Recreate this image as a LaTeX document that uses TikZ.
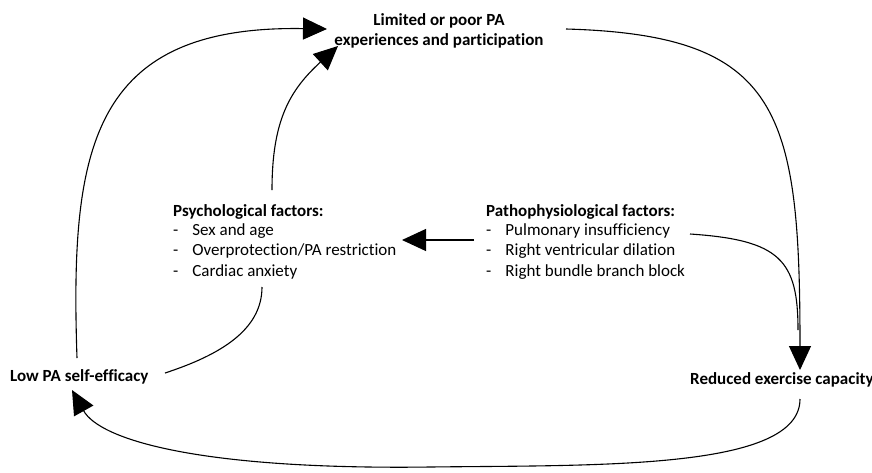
\documentclass[tikz,border=0pt]{standalone}
\usepackage{fontspec}
\setmainfont{Carlito}[RawFeature={-liga}]
\usetikzlibrary{arrows.meta}
\begin{document}
\begin{tikzpicture}[x=1pt,y=-1pt,
  conn/.style={line width=1.1pt,-{Triangle[length=24pt,width=22pt]}},
  plain/.style={line width=1.1pt},
  lbl/.style={font=\fontsize{17}{20.5}\selectfont\bfseries,inner sep=0pt},
  blk/.style={font=\fontsize{17}{20.5}\selectfont,inner sep=0pt,anchor=north west,align=left}]
\useasboundingbox (0,0) rectangle (872,472);
\node[lbl,align=center] (top) at (439,31) {Limited or poor PA\\experiences and participation};
\node[lbl,anchor=west] (low) at (10,377) {Low PA self-efficacy};
\node[lbl,anchor=west] (red) at (690,380) {Reduced exercise capacity};
\node[blk] (psy) at (173,204) {\textbf{Psychological factors:}\\[1pt]
  \begin{tabular}{@{}l@{\hspace{14pt}}l@{}}
  -& Sex and age\\ -& Overprotection/PA restriction\\ -& Cardiac anxiety
  \end{tabular}};
\node[blk] (pat) at (486,204) {\textbf{Pathophysiological factors:}\\[1pt]
  \begin{tabular}{@{}l@{\hspace{14pt}}l@{}}
  -& Pulmonary insufficiency\\ -& Right ventricular dilation\\ -& Right bundle branch block
  \end{tabular}};
\coordinate (a1s) at (77,358);
\coordinate (a1e) at (327,29);
\coordinate (a2s) at (272,190);
\coordinate (a2e) at (338,46);
\coordinate (a3s) at (566,29);
\coordinate (a3e) at (800,370);
\coordinate (a4s) at (474,240);
\coordinate (a4e) at (402,240);
\coordinate (a5s) at (690,234);
\coordinate (a5e) at (798,330);
\coordinate (a6s) at (262,287);
\coordinate (a6e) at (165,373);
\coordinate (a7s) at (800,399);
\coordinate (a7e) at (72,390);
\draw[conn] (a1s) .. controls (70,150) and (90,25) .. (a1e);
\draw[conn] (a2s) .. controls (272,120) and (290,90) .. (a2e);
\draw[conn] (a3s) .. controls (780,35) and (800,110) .. (a3e);
\draw[conn] (a4s) -- (a4e);
\draw[plain] (a5s) .. controls (780,240) and (798,260) .. (a5e);
\draw[plain] (a6s) .. controls (262,330) and (220,355) .. (a6e);
\draw[conn] (a7s) .. controls (800,470) and (600,465) .. (430,467) .. controls (200,470) and (100,440) .. (a7e);
\end{tikzpicture}
\end{document}
